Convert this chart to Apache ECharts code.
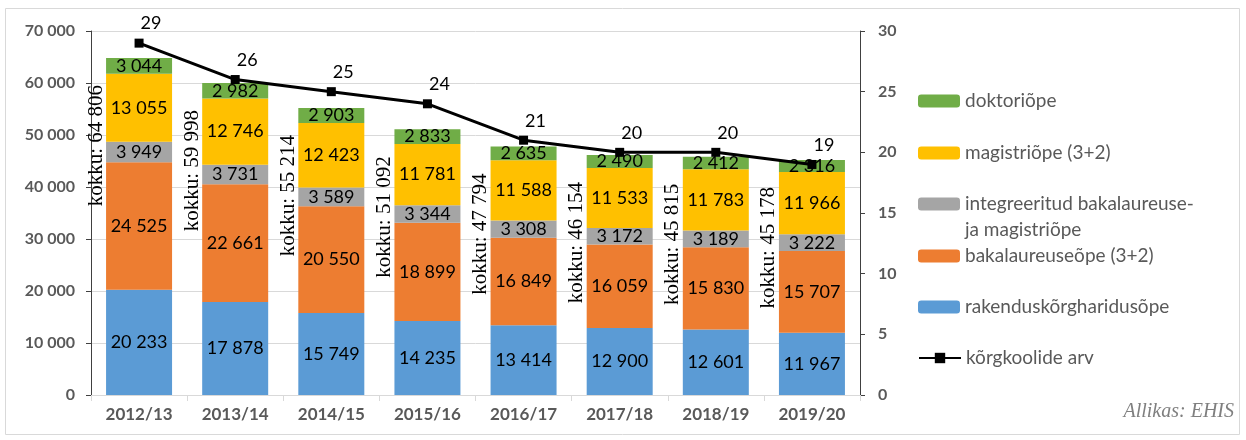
<!DOCTYPE html>
<html>
<head>
<meta charset="utf-8">
<script src="https://cdn.jsdelivr.net/npm/echarts@6/dist/echarts.min.js"></script>
<style>
    html, body {margin: 0; padding: 0; background: #fff;}
    #chart {width: 1246px; height: 440px;}
</style>
</head>
<body>
<div id="chart"></div>
<script>
//andmed
var aastad = ['2012/13', '2013/14', '2014/15', '2015/16', '2016/17', '2017/18', '2018/19', '2019/20'];
var rakendus = [20233, 17878, 15749, 14235, 13414, 12900, 12601, 11967];
var bakalaureus = [24525, 22661, 20550, 18899, 16849, 16059, 15830, 15707];
var integreeritud = [3949, 3731, 3589, 3344, 3308, 3172, 3189, 3222];
var magister = [13055, 12746, 12423, 11781, 11588, 11533, 11783, 11966];
var doktor = [3044, 2982, 2903, 2833, 2635, 2490, 2412, 2316];
var kokku = [64806, 59998, 55214, 51092, 47794, 46154, 45815, 45178];
var koolid = [29, 26, 25, 24, 21, 20, 20, 19];

var FONT = 'Lato';
var GRAY = '#595959';

//tuhandete eraldaja tühikuga
function fmt(v) {
    return String(v).replace(/\B(?=(\d{3})+(?!\d))/g, ' ');
}

function barSeries(name, data, color) {
    return {
        name: name,
        type: 'bar',
        stack: 'kokku',
        barWidth: 66,
        data: data,
        itemStyle: {color: color},
        label: {
            show: true,
            position: 'inside',
            color: '#000',
            fontFamily: FONT,
            fontSize: 18,
            formatter: function (p) { return fmt(p.value); }
        }
    };
}

function legendAt(name, top, extra) {
    var l = {
        data: [name],
        orient: 'vertical',
        left: 918,
        top: top,
        padding: 0,
        itemWidth: 42,
        itemHeight: 13,
        selectedMode: false,
        textStyle: {color: GRAY, fontFamily: FONT, fontSize: 19, lineHeight: 26}
    };
    if (extra) {
        for (var k in extra) l[k] = extra[k];
    }
    return l;
}

var integrName = 'integreeritud bakalaureuse-\nja magistriõpe';

var myChart = echarts.init(document.getElementById('chart'));
myChart.setOption({
    animation: false,
    grid: {left: 91, right: 386, top: 31, bottom: 45},
    legend: [
        legendAt('doktoriõpe', 101 - 13),
        legendAt('magistriõpe (3+2)', 153 - 13),
        legendAt(integrName, 204 - 39, {formatter: function (n) { return '\n' + n; }}),
        legendAt('bakalaureuseõpe (3+2)', 256 - 13),
        legendAt('rakenduskõrgharidusõpe', 307 - 13),
        legendAt('kõrgkoolide arv', 358 - 13)
    ],
    xAxis: {
        type: 'category',
        data: aastad,
        axisLine: {lineStyle: {color: '#d9d9d9'}},
        axisTick: {show: true, length: 6, lineStyle: {color: '#d9d9d9'}},
        axisLabel: {color: GRAY, fontFamily: FONT, fontWeight: 'bold', fontSize: 17, margin: 11}
    },
    yAxis: [{
        type: 'value',
        min: 0,
        max: 70000,
        interval: 10000,
        axisLine: {show: true, lineStyle: {color: '#404040'}},
        axisTick: {show: true, length: 5, lineStyle: {color: '#404040'}},
        splitLine: {lineStyle: {color: '#d9d9d9'}},
        axisLabel: {color: GRAY, fontFamily: FONT, fontWeight: 'bold', fontSize: 16, margin: 16, formatter: fmt}
    }, {
        type: 'value',
        min: 0,
        max: 30,
        interval: 5,
        position: 'right',
        axisLine: {show: true, lineStyle: {color: '#404040'}},
        axisTick: {show: true, length: 5, lineStyle: {color: '#404040'}},
        splitLine: {show: false},
        axisLabel: {color: GRAY, fontFamily: FONT, fontWeight: 'bold', fontSize: 16, margin: 18}
    }],
    series: [
        barSeries('rakenduskõrgharidusõpe', rakendus, '#5B9BD5'),
        barSeries('bakalaureuseõpe (3+2)', bakalaureus, '#ED7D31'),
        barSeries(integrName, integreeritud, '#A5A5A5'),
        barSeries('magistriõpe (3+2)', magister, '#FFC000'),
        barSeries('doktoriõpe', doktor, '#70AD47'),
        {
            //kokku sildid tulpade kõrval
            type: 'custom',
            data: kokku.map(function (v, i) { return [i, v]; }),
            z: 5,
            silent: true,
            renderItem: function (params, api) {
                var p = api.coord([api.value(0), api.value(1)]);
                return {
                    type: 'text',
                    x: p[0] - 43,
                    y: p[1] + 27,
                    rotation: Math.PI / 2,
                    style: {
                        text: 'kokku: ' + fmt(api.value(1)),
                        fill: '#000',
                        font: '21px "Liberation Serif"',
                        align: 'right',
                        verticalAlign: 'middle'
                    }
                };
            }
        },
        {
            name: 'kõrgkoolide arv',
            type: 'line',
            yAxisIndex: 1,
            data: koolid,
            z: 10,
            symbol: 'rect',
            symbolSize: 9,
            itemStyle: {color: '#000'},
            lineStyle: {color: '#000', width: 3},
            label: {
                show: true,
                position: 'top',
                offset: [12, -1],
                color: '#000',
                fontFamily: FONT,
                fontSize: 18
            }
        }
    ],
    graphic: [{
        type: 'rect',
        shape: {x: 5.5, y: 8.5, width: 1234, height: 426},
        style: {fill: 'none', stroke: '#d9d9d9', lineWidth: 1},
        silent: true
    }, {
        type: 'text',
        right: 12,
        top: 402,
        style: {
            text: 'Allikas: EHIS',
            fill: '#7f7f7f',
            font: 'italic 20px "Liberation Serif"'
        }
    }]
});
</script>
</body>
</html>
